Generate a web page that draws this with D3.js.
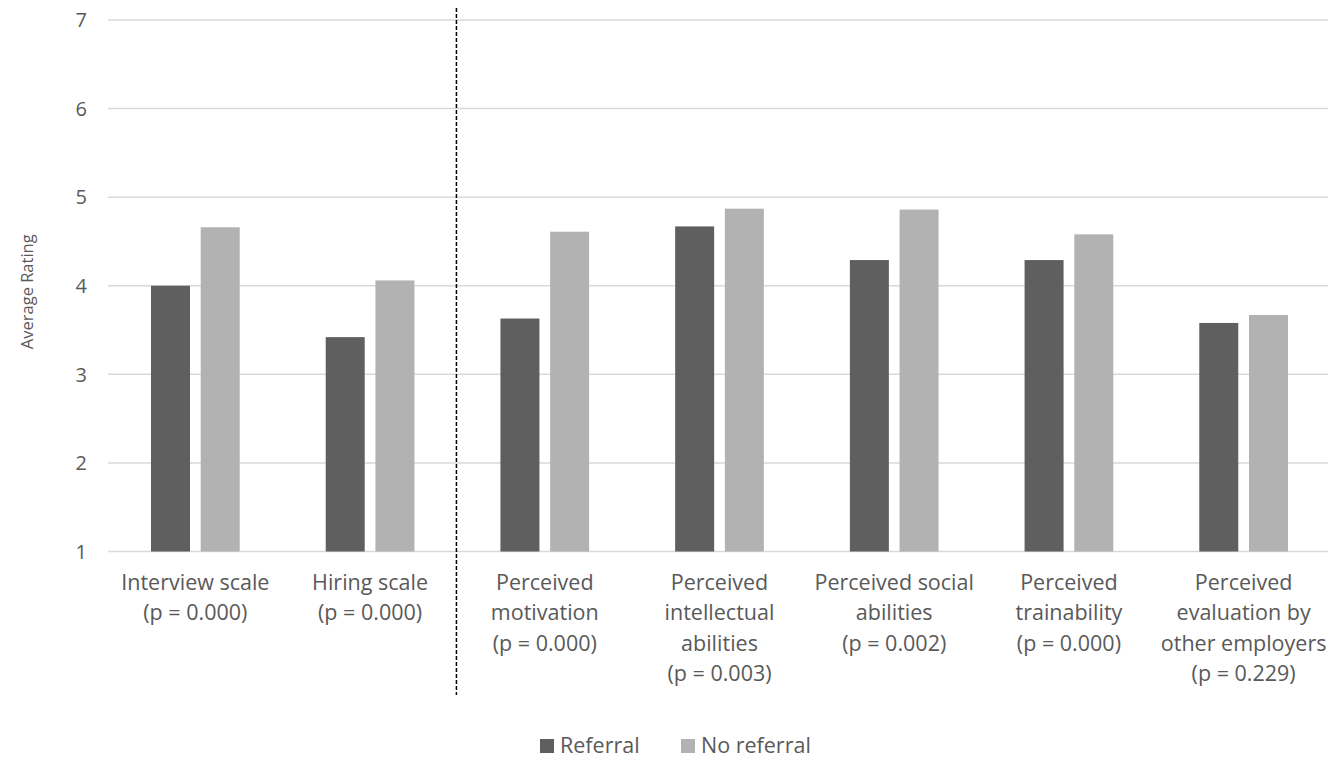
<!DOCTYPE html>
<html>
<head>
<meta charset="utf-8">
<script src="https://cdn.jsdelivr.net/npm/d3@7"></script>
<style>
  body { margin: 0; background: #fff; }
  svg text { font-family: "Open Sans", sans-serif; fill: #595959; }
</style>
</head>
<body>
<svg width="1328" height="758"></svg>
<script>
// chart data
var categories = [
  ["Interview scale", "(p = 0.000)"],
  ["Hiring scale", "(p = 0.000)"],
  ["Perceived", "motivation", "(p = 0.000)"],
  ["Perceived", "intellectual", "abilities", "(p = 0.003)"],
  ["Perceived social", "abilities", "(p = 0.002)"],
  ["Perceived", "trainability", "(p = 0.000)"],
  ["Perceived", "evaluation by", "other employers", "(p = 0.229)"]
];
var seriesNames = ["Referral", "No referral"];
var referral   = [4.00, 3.42, 3.63, 4.67, 4.29, 4.29, 3.58];
var noReferral = [4.66, 4.06, 4.61, 4.87, 4.86, 4.58, 3.67];
var yTicks = [1, 2, 3, 4, 5, 6, 7];
var colors = ["#5f5f5f", "#b2b2b2"];

var svg = d3.select("svg");

var x = d3.scaleBand()
  .domain(d3.range(categories.length))
  .range([108, 1331]);

var y = d3.scaleLinear()
  .domain([1, 7])
  .range([551.5, 20]);

// bar positions inside a band
var barW = 39, barGap = 10.7;
var inner = d3.scaleOrdinal()
  .domain([0, 1])
  .range([-(barW + barGap / 2), barGap / 2]);

// gridlines
svg.append("g")
  .selectAll("line")
  .data(yTicks)
  .join("line")
  .attr("x1", 108)
  .attr("x2", 1328)
  .attr("y1", d => y(d))
  .attr("y2", d => y(d))
  .attr("stroke", "#d9d9d9")
  .attr("stroke-width", 1.5);

// y tick labels
svg.append("g")
  .selectAll("text")
  .data(yTicks)
  .join("text")
  .attr("x", 87)
  .attr("y", d => y(d))
  .attr("dy", "0.36em")
  .attr("text-anchor", "end")
  .attr("font-size", "20px")
  .text(d => d);

// y title
svg.append("text")
  .attr("transform", "translate(33," + ((y(1) + y(7)) / 2 + 6) + ") rotate(-90)")
  .attr("text-anchor", "middle")
  .attr("font-size", "16.5px")
  .text("Average Rating");

// bars
var series = [referral, noReferral];
series.forEach(function (vals, s) {
  svg.append("g")
    .selectAll("rect")
    .data(vals)
    .join("rect")
    .attr("x", (d, i) => x(i) + x.bandwidth() / 2 + inner(s))
    .attr("width", barW)
    .attr("y", d => y(d))
    .attr("height", d => y(1) - y(d))
    .attr("fill", colors[s]);
});

// category labels
var labels = svg.append("g")
  .selectAll("text")
  .data(categories)
  .join("text")
  .attr("x", (d, i) => x(i) + x.bandwidth() / 2)
  .attr("y", 590)
  .attr("text-anchor", "middle")
  .attr("font-size", "21.5px");

labels.selectAll("tspan")
  .data(d => d)
  .join("tspan")
  .attr("x", function () { return d3.select(this.parentNode).attr("x"); })
  .attr("dy", (d, i) => i == 0 ? 0 : 30.3)
  .text(d => d);

// dashed separator
svg.append("line")
  .attr("x1", x(2) - 1)
  .attr("x2", x(2) - 1)
  .attr("y1", 8)
  .attr("y2", 695)
  .attr("stroke", "#000")
  .attr("stroke-width", 1.5)
  .attr("stroke-dasharray", "4,2");

// legend
var legendX = [540, 681];
var legend = svg.append("g")
  .selectAll("g")
  .data(seriesNames)
  .join("g")
  .attr("transform", (d, i) => "translate(" + legendX[i] + ",739)");

legend.append("rect")
  .attr("width", 14)
  .attr("height", 14)
  .attr("fill", (d, i) => colors[i]);

legend.append("text")
  .attr("x", 20)
  .attr("y", 14)
  .attr("font-size", "21.5px")
  .text(d => d);
</script>
</body>
</html>
